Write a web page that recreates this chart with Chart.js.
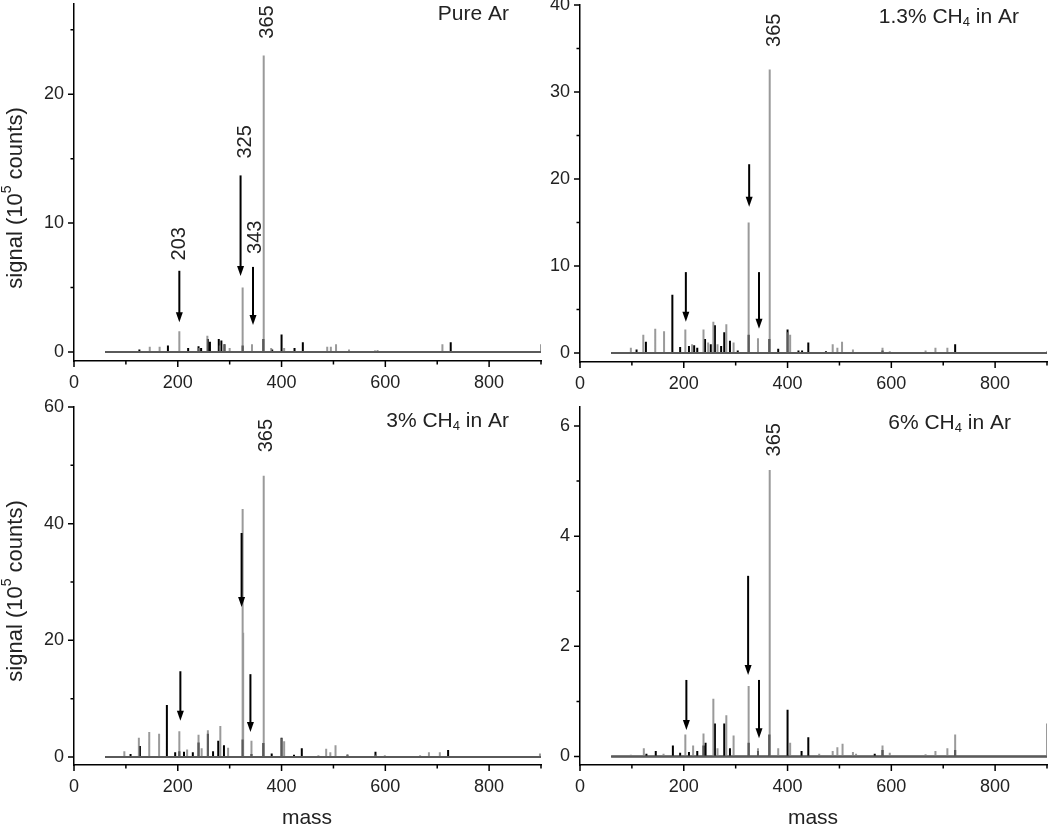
<!DOCTYPE html>
<html><head><meta charset="utf-8">
<script src="https://cdn.jsdelivr.net/npm/chart.js@4.4.0/dist/chart.umd.min.js"></script>
<style>
html,body{margin:0;padding:0;background:#fff;width:1050px;height:831px;overflow:hidden;position:relative}
canvas{position:absolute;left:-40px;top:-40px}
</style></head><body>
<canvas id="c1" width="1130" height="911"></canvas>
<canvas id="c2" width="1130" height="911"></canvas>
<canvas id="c3" width="1130" height="911"></canvas>
<canvas id="c4" width="1130" height="911"></canvas>
<script>
// ---------- data ----------
const MASS_TICKS = [0, 200, 400, 600, 800];
const MASS_MINOR = [100, 300, 500, 700, 900];
const SPECTRUM_RANGE = [60, 900];

// Pure Ar  [mass, signal (1e5 counts)]
const pureArGray = [[146,0.4],[165,0.4],[203,1.6],[240,0.3],[257,1.25],[281,0.5],[290,0.6],[300,0.3],[325,5.0],[343,0.6],[365,23.0],[366,15.0],[380,0.3],[405,0.3],[488,0.4],[495,0.4],[505,0.6],[530,0.2],[585,0.15],[710,0.6],[900,0.6]];
const pureArBlack = [[126,0.2],[181,0.5],[220,0.3],[240,0.45],[245,0.3],[258,1.0],[262,0.8],[279,1.0],[284,0.9],[290,0.6],[325,0.5],[365,1.0],[382,0.2],[400,1.35],[425,0.3],[441,0.75],[580,0.1],[726,0.75]];
const pureArYTicks = [0, 10, 20];
const pureArYMinor = [5, 15, 25];
const pureArArrows = [[203,6.3,2.3],[321,13.7,5.9],[345,6.6,2.1]];
const pureArLabels = [['203',204,8.4],['325',330,16.3],['343',349,8.9],['365',372,25.6]];

// 1.3% CH4 in Ar
const ch4_13Gray = [[98,0.6],[122,2.1],[145,2.8],[162,2.5],[203,2.7],[216,1.0],[238,2.7],[247,1.2],[257,3.6],[265,1.0],[282,3.3],[296,1.2],[325,15.0],[343,1.7],[365,32.6],[366,19.0],[400,2.4],[405,2.1],[487,1.0],[496,0.6],[505,1.3],[526,0.4],[583,0.6],[597,0.2],[666,0.3],[685,0.6],[708,0.6],[900,0.2]];
const ch4_13Black = [[109,0.4],[127,1.3],[178,6.7],[193,0.7],[210,0.8],[220,0.9],[226,0.6],[241,1.6],[252,1.0],[260,3.2],[272,0.8],[278,2.4],[289,1.4],[304,0.3],[325,2.1],[365,1.6],[382,0.5],[400,2.7],[421,0.3],[428,0.3],[440,1.2],[474,0.2],[583,0.3],[723,1.0]];
const ch4_13YTicks = [0, 10, 20, 30, 40];
const ch4_13YMinor = [5, 15, 25, 35];
const ch4_13Arrows = [[204,9.3,3.6],[326,21.7,16.8],[345,9.3,2.8]];
const ch4_13Labels = [['365',374,37.1]];

// 3% CH4 in Ar
const ch4_3Gray = [[97,1.0],[125,3.3],[145,4.3],[164,4.0],[203,4.4],[218,1.3],[240,3.8],[246,1.5],[258,4.6],[282,5.3],[297,1.6],[325,42.5],[326,21.3],[342,2.8],[365,48.2],[366,32.3],[400,3.2],[405,2.7],[471,0.3],[486,1.4],[494,0.8],[504,2.0],[527,0.5],[581,0.4],[599,0.3],[667,0.3],[684,0.8],[705,0.8],[898,0.6]];
const ch4_3Black = [[109,0.5],[127,1.9],[179,8.9],[195,0.8],[203,1.0],[212,0.9],[229,0.8],[240,2.5],[258,4.0],[268,1.0],[278,2.8],[289,2.0],[325,3.0],[342,0.5],[365,2.4],[381,0.6],[400,3.3],[424,0.4],[439,1.5],[527,0.3],[581,0.9],[721,1.2]];
const ch4_3YTicks = [0, 20, 40, 60];
const ch4_3YMinor = [10, 30, 50];
const ch4_3Arrows = [[205,14.7,6.2],[323,38.4,25.7],[340,14.2,4.3]];
const ch4_3Labels = [['365',371,55.1]];

// 6% CH4 in Ar
const ch4_6Gray = [[98,0.03],[123,0.15],[161,0.05],[203,0.4],[218,0.2],[238,0.42],[257,1.05],[265,0.15],[282,0.75],[296,0.38],[325,1.28],[343,0.15],[365,5.2],[366,3.05],[382,0.15],[405,0.25],[461,0.05],[487,0.1],[496,0.17],[506,0.23],[526,0.08],[532,0.05],[583,0.2],[597,0.07],[666,0.04],[685,0.1],[708,0.15],[723,0.4],[900,0.6]];
const ch4_6Black = [[128,0.05],[146,0.1],[179,0.2],[193,0.07],[210,0.08],[226,0.1],[238,0.2],[242,0.25],[260,0.6],[278,0.6],[289,0.15],[325,0.25],[343,0.1],[365,0.4],[400,0.85],[427,0.1],[440,0.35],[568,0.05],[583,0.12],[723,0.12]];
const ch4_6YTicks = [0, 2, 4, 6];
const ch4_6YMinor = [1, 3, 5];
const ch4_6Arrows = [[205,1.39,0.48],[324,3.28,1.48],[345,1.39,0.33]];
const ch4_6Labels = [['365',374,5.75]];

// ---------- layout ----------
const FONT = '"Liberation Sans", Arial, sans-serif';
const TXT = '#222';
const M = 40, PAGE_W = 1050, PAGE_H = 831, YW = 60, XH = 40;

const panels = [
  {id:'c1', gray:pureArGray, black:pureArBlack, yTicks:pureArYTicks, yMinor:pureArYMinor, arrows:pureArArrows, labels:pureArLabels,
   ymin:-0.7, ymax:27, area:{left:74,top:4,right:541,bottom:361},
   title:[['Pure Ar']], titlePos:[509,14], yTitle:[16,198], xTitle:null},
  {id:'c2', gray:ch4_13Gray, black:ch4_13Black, yTicks:ch4_13YTicks, yMinor:ch4_13YMinor, arrows:ch4_13Arrows, labels:ch4_13Labels,
   ymin:-1.03, ymax:40, area:{left:580,top:5,right:1047,bottom:362},
   title:[['1.3% CH'],['4','sub'],[' in Ar']], titlePos:[1019,17], yTitle:null, xTitle:null},
  {id:'c3', gray:ch4_3Gray, black:ch4_3Black, yTicks:ch4_3YTicks, yMinor:ch4_3YMinor, arrows:ch4_3Arrows, labels:ch4_3Labels,
   ymin:-1.37, ymax:60, area:{left:74,top:407,right:541,bottom:765},
   title:[['3% CH'],['4','sub'],[' in Ar']], titlePos:[509,421], yTitle:[16,591], xTitle:[307,818]},
  {id:'c4', gray:ch4_6Gray, black:ch4_6Black, yTicks:ch4_6YTicks, yMinor:ch4_6YMinor, arrows:ch4_6Arrows, labels:ch4_6Labels,
   ymin:-0.154, ymax:6.345, area:{left:580,top:407,right:1047,bottom:765},
   title:[['6% CH'],['4','sub'],[' in Ar']], titlePos:[1011,423], yTitle:null, xTitle:[813,818]}
];

function stick(peaks){
  const pts = [{x:SPECTRUM_RANGE[0], y:0}];
  peaks.slice().sort((a,b)=>a[0]-b[0]).forEach(([m,v])=>{
    pts.push({x:m,y:0},{x:m,y:v},{x:m,y:0});
  });
  pts.push({x:SPECTRUM_RANGE[1], y:0});
  return pts;
}

function drawParts(ctx, parts, size, align){
  const small = Math.round(size*0.62);
  let w = 0;
  const widths = parts.map(([t,k])=>{ctx.font = (k? small : size)+'px '+FONT; const m = ctx.measureText(t).width; w += m; return m;});
  let x = align==='right' ? -w : align==='center' ? -w/2 : 0;
  parts.forEach(([t,k],i)=>{
    ctx.font = (k? small : size)+'px '+FONT;
    const dy = k==='sub' ? size*0.28 : k==='sup' ? -size*0.42 : 0;
    ctx.fillText(t, x, dy);
    x += widths[i];
  });
}

const annotPlugin = {
  id:'annot',
  afterDraw(chart, args, p){
    const {ctx, chartArea:ca} = chart;
    const xs = chart.scales.x, ys = chart.scales.y;
    ctx.save();
    ctx.strokeStyle = '#000'; ctx.lineWidth = 1.5;
    ctx.beginPath();
    MASS_TICKS.forEach(v=>{const px=xs.getPixelForValue(v); ctx.moveTo(px,ca.bottom); ctx.lineTo(px,ca.bottom+6);});
    MASS_MINOR.forEach(v=>{const px=xs.getPixelForValue(v); ctx.moveTo(px,ca.bottom); ctx.lineTo(px,ca.bottom+3.5);});
    p.yTicks.forEach(v=>{const py=ys.getPixelForValue(v); ctx.moveTo(ca.left,py); ctx.lineTo(ca.left-6,py);});
    p.yMinor.forEach(v=>{const py=ys.getPixelForValue(v); ctx.moveTo(ca.left,py); ctx.lineTo(ca.left-3.5,py);});
    ctx.stroke();

    ctx.fillStyle = '#000'; ctx.lineWidth = 2;
    p.arrows.forEach(([m,from,to])=>{
      const px = xs.getPixelForValue(m), y1 = ys.getPixelForValue(from), y2 = ys.getPixelForValue(to);
      ctx.beginPath(); ctx.moveTo(px,y1); ctx.lineTo(px,y2-8); ctx.stroke();
      ctx.beginPath(); ctx.moveTo(px-3.5,y2-10); ctx.lineTo(px+3.5,y2-10); ctx.lineTo(px,y2); ctx.closePath(); ctx.fill();
    });

    ctx.fillStyle = TXT; ctx.font = '20px '+FONT; ctx.textAlign='center'; ctx.textBaseline='middle';
    p.labels.forEach(([t,m,v])=>{
      ctx.save(); ctx.translate(xs.getPixelForValue(m), ys.getPixelForValue(v)); ctx.rotate(-Math.PI/2);
      ctx.fillText(t,0,0); ctx.restore();
    });

    ctx.textAlign='left'; ctx.textBaseline='middle';
    ctx.save(); ctx.translate(p.titlePos[0]+M, p.titlePos[1]+M);
    drawParts(ctx, p.title, 21, 'right'); ctx.restore();

    if (p.yTitle){
      ctx.save(); ctx.translate(p.yTitle[0]+M, p.yTitle[1]+M); ctx.rotate(-Math.PI/2);
      drawParts(ctx, [['signal (10'],['5','sup'],[' counts)']], 22, 'center'); ctx.restore();
    }
    if (p.xTitle){
      ctx.save(); ctx.translate(p.xTitle[0]+M, p.xTitle[1]+M);
      drawParts(ctx, [['mass']], 21, 'center'); ctx.restore();
    }
    ctx.restore();
  }
};

panels.forEach(p=>{
  const a = p.area;
  new Chart(document.getElementById(p.id), {
    type:'line',
    data:{datasets:[
      {label:'gray', data:stick(p.gray), borderColor:'rgba(120,120,120,0.75)', borderWidth:2, pointRadius:0, tension:0, fill:false, borderJoinStyle:'miter'},
      {label:'black', data:stick(p.black), borderColor:'#000', borderWidth:2, pointRadius:0, tension:0, fill:false, borderJoinStyle:'miter'}
    ]},
    options:{
      responsive:false, animation:false, devicePixelRatio:1,
      events:[],
      layout:{padding:{left:a.left+M-YW, top:a.top+M, right:PAGE_W+M-a.right, bottom:PAGE_H+M-a.bottom-XH}},
      plugins:{legend:{display:false}, tooltip:{enabled:false}, annot:p},
      scales:{
        x:{type:'linear', min:0, max:900,
           afterBuildTicks:s=>{s.ticks = MASS_TICKS.map(v=>({value:v}));},
           afterFit:s=>{s.height = XH;},
           grid:{display:false, drawTicks:false},
           border:{display:true, color:'#000', width:1.5},
           ticks:{font:{family:FONT,size:18}, color:TXT, padding:11, maxRotation:0, autoSkip:false}},
        y:{type:'linear', min:p.ymin, max:p.ymax,
           afterBuildTicks:s=>{s.ticks = p.yTicks.map(v=>({value:v}));},
           afterFit:s=>{s.width = YW;},
           grid:{display:false, drawTicks:false},
           border:{display:true, color:'#000', width:1.5},
           ticks:{font:{family:FONT,size:18}, color:TXT, padding:10, autoSkip:false}}
      }
    },
    plugins:[annotPlugin]
  });
});
</script>
</body></html>
